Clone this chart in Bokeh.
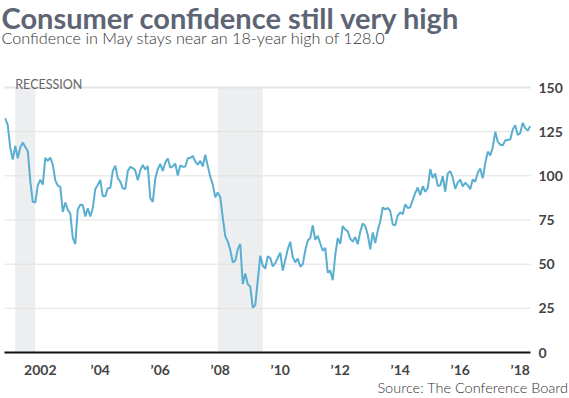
from bokeh.plotting import figure
from bokeh.models import Label, FixedTicker, Range1d
from bokeh.embed import file_html
from bokeh.resources import INLINE

# Monthly Conference Board consumer confidence index (1985=100), Nov 2000 - May 2018
start_year, start_month = 2000, 11
conf_2000 = [132.6, 128.6]
conf_2001 = [115.7, 109.2, 116.9, 109.9, 116.1, 118.9, 116.3, 114.0, 97.0, 85.3, 84.9, 94.6]
conf_2002 = [97.8, 95.0, 110.2, 108.5, 110.3, 106.3, 97.4, 94.5, 93.7, 79.6, 84.9, 80.7]
conf_2003 = [78.8, 64.8, 61.4, 81.0, 83.6, 83.5, 77.0, 81.7, 77.0, 81.7, 92.5, 94.8]
conf_2004 = [97.7, 88.5, 88.5, 93.0, 93.1, 102.8, 105.7, 98.7, 96.7, 92.9, 92.6, 102.7]
conf_2005 = [105.1, 104.4, 103.0, 97.5, 103.1, 106.2, 103.6, 105.5, 87.5, 85.2, 98.3, 103.8]
conf_2006 = [106.8, 102.7, 107.5, 109.8, 104.7, 105.4, 107.0, 100.2, 105.9, 105.1, 105.3, 110.0]
conf_2007 = [110.2, 111.2, 108.2, 106.3, 108.5, 105.3, 111.9, 105.6, 99.5, 95.2, 87.8, 90.6]
conf_2008 = [87.9, 76.4, 65.9, 62.8, 58.1, 51.0, 51.9, 58.5, 61.4, 38.8, 44.7, 38.6]
conf_2009 = [37.4, 25.3, 26.9, 40.8, 54.8, 49.3, 47.4, 54.5, 53.4, 48.7, 50.6, 53.6]
conf_2010 = [56.5, 46.4, 52.3, 58.5, 62.7, 54.0, 51.0, 53.2, 48.6, 49.9, 57.8, 63.4]
conf_2011 = [64.8, 72.0, 63.8, 66.0, 61.7, 57.6, 59.2, 45.2, 46.4, 40.9, 55.2, 64.8]
conf_2012 = [61.5, 71.6, 69.5, 68.7, 64.4, 62.7, 65.4, 61.3, 68.4, 73.1, 71.5, 66.7]
conf_2013 = [58.4, 68.0, 61.9, 69.0, 74.3, 82.1, 81.0, 81.8, 80.2, 72.4, 72.0, 77.5]
conf_2014 = [79.4, 78.3, 83.9, 81.7, 82.2, 86.4, 90.3, 93.4, 89.0, 94.1, 91.0, 93.1]
conf_2015 = [103.8, 98.8, 101.4, 94.3, 94.6, 99.8, 91.0, 101.3, 102.6, 99.1, 92.6, 96.3]
conf_2016 = [97.8, 94.0, 96.1, 94.7, 92.4, 98.0, 96.7, 101.8, 104.1, 98.6, 107.1, 113.7]
conf_2017 = [111.6, 116.1, 124.9, 119.4, 117.6, 117.3, 120.0, 120.4, 120.6, 126.2, 128.6, 123.1]
conf_2018 = [124.3, 130.0, 127.0, 125.6, 128.0]

# Recessions (start, end) as decimal years
recession_starts = [2001 + 2 / 12, 2007 + 11 / 12]
recession_ends = [2001 + 10 / 12, 2009 + 5 / 12]

x_ticks = [2002, 2004, 2006, 2008, 2010, 2012, 2014, 2016, 2018]
x_tick_labels = ["2002", "\u201904", "\u201906", "\u201908", "\u201910", "\u201912", "\u201914", "\u201916", "\u201918"]
y_ticks = [0, 25, 50, 75, 100, 125, 150]

values = (conf_2000 + conf_2001 + conf_2002 + conf_2003 + conf_2004 + conf_2005 +
          conf_2006 + conf_2007 + conf_2008 + conf_2009 + conf_2010 + conf_2011 +
          conf_2012 + conf_2013 + conf_2014 + conf_2015 + conf_2016 + conf_2017 + conf_2018)
dates = [start_year + (start_month - 1 + i) / 12 for i in range(len(values))]

# ---- layout (canvas pixels) ----
FONT = "Lato"
LIGHT = "'Lato Light', Lato"
W, H = 569, 398
AREA_L, AREA_R, AREA_T, AREA_B = 4, 530, 87, 352      # plotting area in canvas px
X0, X1 = 2000.807, 2018.342                            # data x at area edges
Y0, Y1 = 0, 150                                        # data y at area edges
kx = (AREA_R - AREA_L) / (X1 - X0)
ky = (AREA_B - AREA_T) / (Y1 - Y0)

p = figure(width=W, height=H, title=None,
           x_range=Range1d(X0 - AREA_L / kx, X1 + (W - AREA_R) / kx),
           y_range=Range1d(Y0 - (H - AREA_B) / ky, Y1 + AREA_T / ky),
           y_axis_location="right", output_backend="svg", toolbar_location=None,
           min_border=0, min_border_left=0, min_border_right=0,
           min_border_top=0, min_border_bottom=0)
p.outline_line_color = None
p.background_fill_color = "white"
p.border_fill_color = "white"
p.xgrid.visible = False
p.ygrid.visible = False

# recession shading
p.quad(left=recession_starts, right=recession_ends, bottom=Y0, top=Y1,
       fill_color="#eceef0", line_color=None)

# horizontal grid lines at the y ticks (limited to the plotting area)
grid_y = [t for t in y_ticks if t not in (0, Y1)]
p.segment(x0=[X0] * len(grid_y), x1=[X1] * len(grid_y), y0=grid_y, y1=grid_y,
          line_color="#e1e1e1", line_width=1)
p.segment(x0=[X0], x1=[X1], y0=[Y1], y1=[Y1], line_color="#e3e3e3", line_width=2)

# data line
p.line(dates, values, line_color="#5aaed0", line_width=2)

# zero baseline
p.segment(x0=[X0], x1=[X1], y0=[0], y1=[0], line_color="#111111", line_width=2)

# axes, fixed at the plotting-area edges
xa = p.xaxis[0]
xa.fixed_location = 0
xa.ticker = FixedTicker(ticks=x_ticks)
xa.major_label_overrides = {t: l for t, l in zip(x_ticks, x_tick_labels)}
xa.axis_line_color = None
xa.major_tick_line_color = None
xa.minor_tick_line_color = None
xa.major_tick_out = 0
xa.major_tick_in = 0
xa.major_label_standoff = 8
xa.major_label_text_font = FONT
xa.major_label_text_font_size = "14px"
xa.major_label_text_font_style = "bold"
xa.major_label_text_color = "#444444"

ya = p.yaxis[0]
ya.fixed_location = X1
ya.ticker = FixedTicker(ticks=y_ticks)
ya.axis_line_color = None
ya.major_tick_line_color = None
ya.minor_tick_line_color = None
ya.major_tick_out = 0
ya.major_tick_in = 0
ya.major_label_standoff = 8
ya.major_label_text_font = FONT
ya.major_label_text_font_size = "14px"
ya.major_label_text_font_style = "bold"
ya.major_label_text_color = "#444444"


def add_text(text, cx, cy, size, color, style="normal", align="left", font=FONT):
    p.add_layout(Label(x=cx, y=H - cy, x_units="screen", y_units="screen",
                       text=text, text_font=font, text_font_size=size,
                       text_color=color, text_font_style=style,
                       text_align=align, text_baseline="alphabetic"))


add_text("Consumer confidence still very high", 1, 17, "29px", "#5d6574", "bold")
add_text("Confidence in May stays near an 18-year high of 128.0", 1, 37, "16.2px", "#333333", font=LIGHT)
add_text("Source: The Conference Board", 568, 387, "14.5px", "#333333", align="right", font=LIGHT)

# recession label, anchored to the first recession's start
p.add_layout(Label(x=recession_starts[0], y=Y1, x_offset=0, y_offset=3,
                   text="RECESSION", text_font=FONT, text_font_size="12.5px",
                   text_color="#666666", text_baseline="alphabetic"))

html = file_html(p, INLINE)
html = html.replace("<head>", "<head><style>html,body{margin:0!important;padding:0;overflow:hidden}</style>", 1)
open("out.html", "w").write(html)
